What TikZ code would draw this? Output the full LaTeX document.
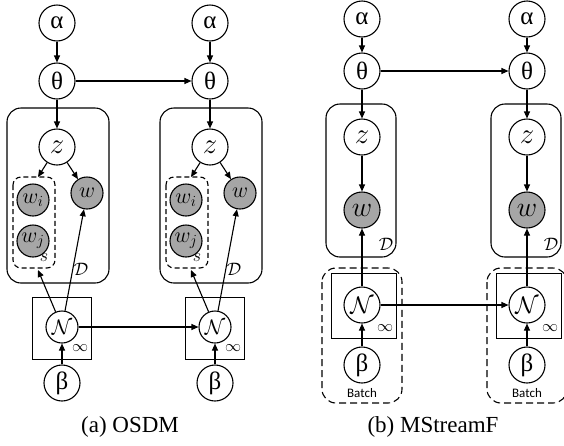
\RequirePackage{fix-cm}
\documentclass[tikz,border=0pt]{standalone}
\usepackage{fontspec}
\setmainfont{Liberation Serif}
\newfontfamily\batchfont{Carlito}
\usetikzlibrary{arrows.meta}
\begin{document}
\begin{tikzpicture}[x=1pt,y=-1pt,
  lw/.style={line width=1.1pt},
  var/.style={circle,draw,lw,inner sep=0pt,minimum size=36pt,font=\fontsize{25}{25}\selectfont},
  mvar/.style={var,font=\fontsize{29}{29}\selectfont},
  obs/.style={circle,draw,lw,fill=gray!70!white,inner sep=0pt,minimum size=32pt,font=\fontsize{22}{22}\selectfont},
  obsb/.style={obs,minimum size=36pt,font=\fontsize{28}{28}\selectfont},
  nvar/.style={var,minimum size=32pt,font=\fontsize{21}{21}\selectfont},
  plate/.style={draw,lw,rounded corners=14pt},
  splate/.style={draw,lw,dashed,dash pattern=on 5pt off 3pt,rounded corners=8pt},
  bplate/.style={draw,lw,dash pattern=on 7pt off 4pt,rounded corners=14pt},
  sq/.style={draw,line width=0.9pt},
  arr/.style={lw,-{Triangle[length=7pt,width=6pt]}},
  captext/.style={font=\fontsize{23}{23}\selectfont},
  lab/.style={inner sep=0pt}
]
\useasboundingbox (0,0) rectangle (564,445);

% ===== (a) OSDM =====
\foreach \i/\dx in {1/0,2/153}{
  \begin{scope}[xshift=\dx]
    \draw[plate] (7,108) rectangle (109,283);
    \draw[splate] (13,177) rectangle (55,268);
    \draw[sq] (32,297) rectangle (91,359);
    \node[var] (a\i) at (57,23) {α};
    \node[var] (t\i) at (57,81) {θ};
    \node[mvar] (z\i) at (57,147) {$z$};
    \node[obs] (wi\i) at (33,200) {$w_i$};
    \node[obs] (wj\i) at (33,241) {$w_j$};
    \node[obs] (w\i) at (87,193) {$w$};
    \node[nvar] (N\i) at (62,327) {$\mathcal{N}$};
    \node[var] (b\i) at (62,383) {β};
    \coordinate (stop\i) at (38,177);
    \coordinate (sbot\i) at (38,270);
    \node[lab,font=\fontsize{18}{18}\selectfont] (s\i) at (44,258) {$s$};
    \node[lab,font=\fontsize{18}{18}\selectfont] (D\i) at (81,269) {$\mathcal{D}$};
    \node[lab,font=\fontsize{16}{16}\selectfont] (inf\i) at (80,348) {$\infty$};
    \draw[arr] (a\i) -- (t\i);
    \draw[arr] (t\i) -- (z\i);
    \draw[arr] (z\i) -- (stop\i);
    \draw[arr] (z\i) -- (w\i);
    \draw[arr] (N\i) -- (sbot\i);
    \draw[arr] (N\i) -- (w\i);
    \draw[arr] (b\i) -- (N\i);
  \end{scope}
}
\draw[arr] (t1) -- (t2);
\draw[arr] (N1) -- (N2);
\node[captext] (capa) at (130,427) {(a) OSDM};

% ===== (b) MStreamF =====
\foreach \i/\dx in {3/0,4/165}{
  \begin{scope}[xshift=\dx]
    \draw[plate] (326,104) rectangle (396,257);
    \draw[bplate] (322,268) rectangle (402,403);
    \draw[sq] (331,273) rectangle (396,338);
    \node[var] (a\i) at (362,19) {α};
    \node[var] (t\i) at (362,71) {θ};
    \node[mvar] (z\i) at (362,137) {$z$};
    \node[obsb] (w\i) at (362,210) {$w$};
    \node[var,font=\fontsize{24}{24}\selectfont] (N\i) at (362,305) {$\mathcal{N}$};
    \node[var] (b\i) at (362,365) {β};
    \node[lab,font=\fontsize{18}{18}\selectfont] (D\i) at (386,244) {$\mathcal{D}$};
    \node[lab,font=\fontsize{16}{16}\selectfont] (inf\i) at (385,328) {$\infty$};
    \node[lab,font=\batchfont\fontsize{13}{13}\selectfont] (bl\i) at (362,393) {Batch};
    \draw[arr] (a\i) -- (t\i);
    \draw[arr] (t\i) -- (z\i);
    \draw[arr] (z\i) -- (w\i);
    \draw[arr] (N\i) -- (w\i);
    \draw[arr] (b\i) -- (N\i);
  \end{scope}
}
\draw[arr] (t3) -- (t4);
\draw[arr] (N3) -- (N4);
\node[captext] (capb) at (433,427) {(b) MStreamF};
\end{tikzpicture}
\end{document}
